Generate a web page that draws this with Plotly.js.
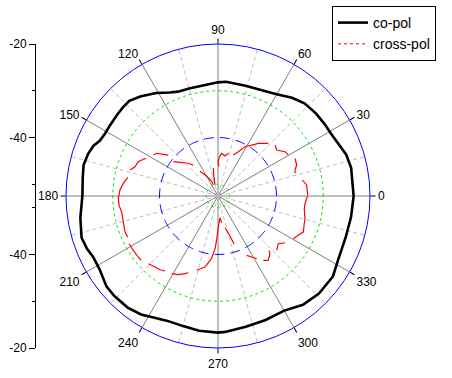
<!DOCTYPE html>
<html>
<head>
<meta charset="utf-8">
<script src="https://cdn.plot.ly/plotly-3.0.1.min.js"></script>
<style>html,body{margin:0;padding:0;background:#fff;}#chart{width:452px;height:378px;}</style>
</head>
<body>
<div id="chart"></div>
<script>
// ---- data (dB vs angle in degrees) ----
const coTheta = [0, 12, 18, 24, 29, 34, 40, 47, 53, 60, 67, 76, 86, 90, 99, 105, 111, 115, 121, 128, 133, 137, 141, 147, 151, 155, 158, 162, 167, 172, 180, 189, 197, 202, 206, 212, 219, 224, 231, 237, 242, 248, 255, 262, 270, 273, 282, 291, 300, 308, 316, 325, 333, 342, 351, 360];
const coDb = [-23.5, -23.4, -23.7, -24.5, -24.9, -25.0, -25.1, -25.4, -26.2, -27.4, -28.0, -28.2, -28.0, -28.2, -28.7, -28.7, -28.6, -28.1, -26.8, -25.5, -24.7, -24.7, -24.8, -24.9, -24.9, -24.6, -23.8, -23.3, -23.0, -23.3, -23.5, -22.7, -22.0, -22.3, -22.8, -22.7, -21.8, -21.7, -21.8, -22.3, -23.1, -23.7, -23.7, -23.4, -23.3, -23.4, -23.9, -24.1, -24.2, -23.0, -22.5, -22.5, -23.5, -23.8, -23.7, -23.5];

const crossTheta = [0.6, 7.1, 10.7, null, 16.4, 18.7, 21.5, 26.1, null, 30.3, 33.5, 38.1, 41.8, null, 46.3, 52.6, 56.5, 61.3, 65.4, 69.5, null, 76.4, 80.1, 85, 87.5, 90, 88, null, 99.5, 102, 104.9, null, 112.6, 113.2, 119.8, 126, null, 128.8, 132.2, 138.4, 142.5, null, 140.5, 142.7, 145.1, 147.6, null, 152.5, 153.8, 156.7, 160.6, 163.5, null, 168.3, 172.4, 176.5, 181.3, 185.4, 189.4, 195.4, 201.2, 204.4, null, 208.2, 212.7, 217.4, 219.9, null, 224.2, 228.4, 231.8, 234.8, null, 239.2, 243.2, 247, 248.8, null, 254, 259.6, 264, 267, 268.5, 270, 275, 278, null, 282.5, 286.7, 288.5, null, 295.8, 298.9, 301.7, null, 305.2, 308, 312, 313.2, null, 317.2, 321.6, 325.1, null, 330.4, 333.9, 337.1, 342.2, 345.4, 351.6, 355, 360];
const crossDb = [-33.32, -33.39, -34.16, null, -35.33, -35.12, -34.41, -34.18, null, -35.1, -35.33, -36.55, -36.14, null, -36.93, -38.32, -39.44, -40.48, -42.09, -43.13, null, -43.11, -43.82, -43.37, -44.05, -45.12, -46.15, null, -46.43, -48.22, -50.0, null, -49.9, -49.08, -47.65, -45.96, null, -44.08, -43.05, -41.64, -40.46, null, -38.73, -37.79, -36.53, -36.12, null, -35.07, -34.71, -33.94, -33.68, -32.87, null, -32.79, -32.08, -31.5, -31.18, -31.25, -31.63, -31.5, -31.18, -31.29, null, -30.9, -30.99, -31.03, -31.06, null, -31.72, -32.21, -32.44, -32.87, null, -33.17, -33.66, -34.45, -34.92, null, -35.97, -37.06, -39.03, -41.38, -43.52, -45.44, -47.8, -46.73, null, -45.55, -43.56, -41.7, null, -38.41, -37.6, -36.74, null, -35.67, -35.05, -35.89, -36.57, null, -35.4, -36.06, -35.03, null, -33.98, -33.39, -32.7, -33.13, -33.28, -33.86, -33.83, -33.35];

const angleLabels = ['0','30','60','90','120','150','180','210','240','270','300','330'];
const angleTicks = [0, 30, 60, 90, 120, 150, 180, 210, 240, 270, 300, 330];
const sideMajor = [-20, -40];
const sideMajorText = ['-20', '-40'];
const sideMinor = [-30, -50];
const rMin = -52.5, rMax = -20;
const greenRings = [-30, -50];
const blueRings = [-40];

// ---- helpers for grid decorations ----
function ring(rv) {
  const th = [], rr = [];
  for (let a = 0; a <= 360; a += 1) { th.push(a); rr.push(rv); }
  return {th, rr};
}
const spokeTh = [], spokeR = [];
for (let a = 15; a < 360; a += 30) { spokeTh.push(a, a, null); spokeR.push(rMin, rMax, null); }

const traces = [];
// empty cartesian trace so the side radial scale axis is drawn
traces.push({type:'scatter', mode:'markers', x:[null], y:[null], xaxis:'x', yaxis:'y', showlegend:false, hoverinfo:'skip'});
traces.push({type:'scatterpolar', mode:'lines', theta:spokeTh, r:spokeR, connectgaps:false,
  line:{color:'#bdbdbd', width:1, dash:'4px,3px'}, showlegend:false, hoverinfo:'skip'});
greenRings.forEach(v => { const g = ring(v); traces.push({type:'scatterpolar', mode:'lines', theta:g.th, r:g.rr,
  line:{color:'#00e000', width:1, dash:'3px,3px'}, showlegend:false, hoverinfo:'skip'}); });
blueRings.forEach(v => { const g = ring(v); traces.push({type:'scatterpolar', mode:'lines', theta:g.th, r:g.rr,
  line:{color:'#0000ff', width:1, dash:'10px,6px'}, showlegend:false, hoverinfo:'skip'}); });

traces.push({type:'scatterpolar', mode:'lines', name:'co-pol', theta:coTheta, r:coDb,
  line:{color:'#000000', width:2.6}});
traces.push({type:'scatterpolar', mode:'lines', name:'cross-pol', theta:crossTheta, r:crossDb, connectgaps:false,
  line:{color:'#ff0000', width:1.2}, showlegend:false});
traces.push({type:'scatterpolar', mode:'lines', name:'cross-pol', theta:[null], r:[null],
  line:{color:'#ff0000', width:1, dash:'dot'}, showlegend:true});

const yv = sideMajor.map(v => v - rMin).concat(sideMajor.map(v => -(v - rMin)));
const yt = sideMajorText.concat(sideMajorText);
const ym = sideMinor.map(v => v - rMin).concat(sideMinor.map(v => -(v - rMin)));
const half = rMax - rMin;

const layout = {
  width:452, height:378,
  margin:{l:0, r:0, t:0, b:0},
  paper_bgcolor:'#ffffff', plot_bgcolor:'rgba(0,0,0,0)',
  font:{family:'"Liberation Sans", Arial, sans-serif', size:12, color:'#000'},
  showlegend:true,
  legend:{x:332/452, y:1-6/378, xanchor:'left', yanchor:'top', bgcolor:'#fff', bordercolor:'#000', borderwidth:1,
    font:{size:14, color:'#000'}, tracegroupgap:0},
  polar:{
    domain:{x:[66/452, 370/452], y:[30/378, 334/378]},
    bgcolor:'#ffffff',
    radialaxis:{range:[rMin, rMax], showticklabels:false, ticks:'', showline:false, showgrid:false},
    angularaxis:{rotation:0, direction:'counterclockwise', tickmode:'array', tickvals:angleTicks, ticktext:angleLabels,
      ticks:'outside', ticklen:5, tickcolor:'#000', showline:true, linecolor:'#0000ff', linewidth:1,
      showgrid:true, gridcolor:'#808080', gridwidth:1, tickfont:{size:12, color:'#000'}}
  },
  xaxis:{visible:false, domain:[0, 0.05], range:[0,1], fixedrange:true},
  yaxis:{domain:[30/378, 334/378], range:[-half, half], anchor:'free', position:35/452,
    tickmode:'array', tickvals:yv, ticktext:yt, ticks:'outside', ticklen:6, tickcolor:'#000',
    showline:true, linecolor:'#000', linewidth:1, showgrid:false, zeroline:false,
    tickfont:{size:12, color:'#000'},
    minor:{tickmode:'array', tickvals:ym, ticks:'outside', ticklen:3, tickcolor:'#000', showgrid:false}}
};

Plotly.newPlot('chart', traces, layout, {staticPlot:true, displayModeBar:false});
</script>
</body>
</html>
